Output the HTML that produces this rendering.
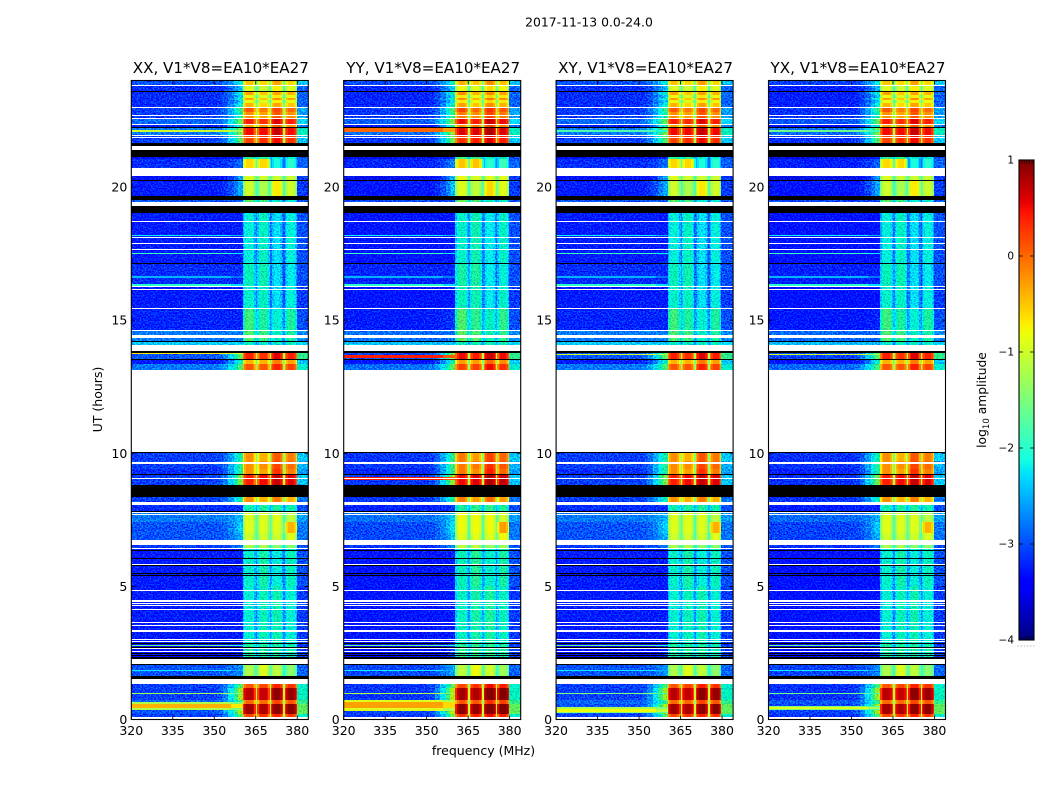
<!DOCTYPE html>
<html>
<head>
<meta charset="utf-8">
<title>2017-11-13 0.0-24.0</title>
<style>
html,body{margin:0;padding:0;background:#fff;width:1050px;height:800px;overflow:hidden}
svg{position:absolute;left:0;top:0;display:block}
text{font-family:"DejaVu Sans","Liberation Sans",sans-serif;fill:#000}
</style>
</head>
<body>
<svg id="fig" xmlns="http://www.w3.org/2000/svg" width="1050" height="800" viewBox="0 0 1050 800">
  <defs>
    <filter id="speckle" filterUnits="userSpaceOnUse" x="0" y="0" width="1050" height="800" color-interpolation-filters="sRGB">
      <feTurbulence type="fractalNoise" baseFrequency="0.62 0.7" numOctaves="1" seed="7" result="n"/>
      <feColorMatrix in="n" type="matrix" values="0 0 0 0 0  3.6 0 0 0 -1.3  0 0 0 0 0.5  0 0 0 0 1" result="nn"/>
      <feComposite in="SourceGraphic" in2="nn" operator="arithmetic" k1="0" k2="1" k3="0.5" k4="-0.25" result="mix"/>
      <feComposite in="mix" in2="SourceAlpha" operator="in"/>
    </filter>
  </defs>
  <text x="589" y="26.5" font-size="12.4" text-anchor="middle">2017-11-13 0.0-24.0</text>
  <text x="0" y="0" font-size="12.5" text-anchor="middle" transform="translate(102,399.5) rotate(-90)">UT (hours)</text>
  <text x="483.5" y="755" font-size="12.5" text-anchor="middle">frequency (MHz)</text>
  <text x="0" y="0" font-size="12.3" text-anchor="middle" transform="translate(986,400) rotate(-90)">log<tspan font-size="8.6" dy="3">10</tspan><tspan dy="-3"> amplitude</tspan></text>
  <g id="panels"></g>
  <g id="colorbar"></g>
</svg>
<script>
// ---------- chart data ----------
const panelTitles = ["XX, V1*V8=EA10*EA27", "YY, V1*V8=EA10*EA27", "XY, V1*V8=EA10*EA27", "YX, V1*V8=EA10*EA27"];
const freqTicks = [320, 335, 350, 365, 380];
const utTicks = [0, 5, 10, 15, 20];
const colorTicks = [1, 0, -1, -2, -3, -4];
const colorTickLabels = ["1", "0", "\u22121", "\u22122", "\u22123", "\u22124"];

// log10 amplitude of each time block:
// UT start, UT end, continuum 320-352, windows 1-4 (360-380 MHz), upper edge 380-384
const timeBlocks = [
  [24.00,23.83,-2.9,-0.5,-0.6,-0.3,-0.6,-2.4],
  [23.83,23.61,-3.1,-0.9,-1.0,-0.7,-0.9,-2.9],
  [23.57,23.45,-3.1,-0.3,-0.5,-0.3,-0.4,-2.9],
  [23.45,23.36,-3.1,-0.8,-0.9,-0.7,-0.8,-2.9],
  [23.36,23.25,-3.1,-0.3,-0.5,-0.2,-0.3,-2.9],
  [23.25,23.15,-3.1,-0.8,-0.9,-0.7,-0.8,-2.9],
  [23.15,23.00,-3.1,-0.4,-0.6,-0.3,-0.5,-2.9],
  [22.97,22.82,-3.0, 0.1,-0.1, 0.2, 0.0,-2.6],
  [22.82,22.56,-3.0,-0.2,-0.3, 0.1,-0.2,-2.6],
  [22.56,22.37,-2.8, 0.4, 0.3, 0.6, 0.4,-2.3],
  [22.37,22.22,-3.2,-0.3,-0.2, 0.1,-0.2,-2.8],
  [22.22,21.97,-2.7, 0.5, 0.5, 0.7, 0.5,-1.9],
  [21.97,21.65,-3.0, 0.2, 0.3, 0.5, 0.3,-2.4],
  [21.14,21.05,-3.4,-1.6,-1.6,-2.0,-2.0,-3.0],
  [21.05,20.71,-3.1,-0.6,-0.6,-2.1,-2.0,-2.9],
  [20.43,20.26,-3.4,-0.9,-1.0,-1.0,-1.0,-3.1],
  [20.26,19.66,-3.2,-1.0,-1.2,-0.7,-1.0,-3.1],
  [19.51,19.42,-2.9,-1.3,-1.5,-2.0,-2.0,-3.0],
  [19.02,17.11,-3.2,-2.05,-1.9,-2.25,-2.05,-3.0],
  [17.11,16.27,-3.1,-1.85,-1.8,-2.25,-2.15,-3.0],
  [16.27,15.47,-3.2,-1.95,-1.9,-2.25,-2.05,-3.1],
  [15.47,14.62,-3.15,-1.5,-1.7,-2.0,-1.7,-3.0],
  [14.62,14.22,-2.7,-1.4,-1.5,-1.9,-1.7,-2.7],
  [14.16,14.07,-2.3,-1.9,-1.9,-1.9,-1.9,-2.3],
  [13.77,13.53,-2.9, 0.4, 0.3, 0.6, 0.4,-1.6],
  [13.53,13.35,-3.2,-0.4,-0.4,-0.1,-0.3,-2.4],
  [13.35,13.12,-2.7, 0.1, 0.1, 0.4, 0.2,-2.0],
  [10.00, 9.70,-3.0,-0.2,-0.4, 0.1,-0.1,-2.4],
  [ 9.70, 9.42,-3.0,-0.2,-0.2, 0.2, 0.0,-2.5],
  [ 9.42, 9.22,-3.1,-0.2,-0.3, 0.3,-0.1,-2.6],
  [ 9.22, 8.80,-3.0, 0.4, 0.5, 0.7, 0.6,-2.4],
  [ 8.35, 8.17,-3.0,-0.2,-0.4,-0.1,-0.4,-2.8],
  [ 8.05, 7.82,-3.1,-1.8,-1.7,-1.7,-1.8,-3.0],
  [ 7.80, 7.40,-2.7,-0.9,-0.9,-0.9,-1.1,-2.6],
  [ 7.40, 7.00,-2.9,-0.9,-0.9,-0.9,-0.4,-2.8],
  [ 7.00, 6.73,-2.9,-1.0,-1.0,-1.0,-0.9,-2.8],
  [ 6.55, 6.46,-3.0,-1.2,-1.2,-1.4,-1.4,-3.0],
  [ 6.39, 5.00,-3.2,-1.95,-1.75,-2.05,-1.85,-3.0],
  [ 5.00, 2.85,-3.2,-2.0,-1.85,-1.8,-2.0,-3.1],
  [ 2.85, 2.28,-3.3,-1.7,-1.7,-1.7,-1.8,-3.1],
  [ 2.09, 1.65,-2.9,-1.2,-0.9,-1.1,-1.4,-2.9],
  [ 1.32, 1.18,-3.0, 0.1, 0.2, 0.4, 0.3,-2.0],
  [ 1.18, 0.73,-3.0, 0.75,0.7, 0.95,0.9,-1.9],
  [ 0.73, 0.58,-2.8, 0.0, 0.0, 0.2, 0.1,-1.6],
  [ 0.58, 0.21,-2.9, 0.85,0.8, 0.95,0.95,-1.3],
  [ 0.21, 0.10,-3.0, 0.2, 0.3, 0.4, 0.3,-2.0]
];

// thin bright lines through the continuum in every panel: UT start, UT end, log10 amplitude
const sharedStreaks = [[18.21,18.17,-2.2],[17.51,17.47,-1.9],[16.64,16.60,-2.5],[16.34,16.29,-2.0],[2.80,2.76,-1.6],[1.85,1.82,-2.2]];

// polarisation dependent continuum streaks: UT start, UT end, log10 amplitude
const xxStreaks = [[22.13,22.07,-1.0],[13.78,13.72,-0.7],[9.07,9.03,-1.0],[1.01,0.96,-1.3],[0.66,0.58,-1.2],[0.58,0.45,-0.4],[0.45,0.36,-1.2]];
const yyStreaks = [[22.24,22.06,0.0],[13.70,13.58,0.4],[9.12,8.98,0.4],[1.01,0.96,-1.2],[0.74,0.66,-0.9],[0.66,0.42,-0.3],[0.42,0.33,-0.9]];
const xyStreaks = [[22.13,22.07,-1.8],[13.74,13.68,-1.0],[9.08,9.02,-0.8],[1.01,0.96,-1.5],[0.48,0.40,-1.2],[0.40,0.30,-0.8],[0.30,0.24,-1.4]];
const yxStreaks = [[22.13,22.07,-1.6],[13.74,13.68,-1.0],[9.08,9.02,-1.5],[1.01,0.96,-1.6],[0.52,0.48,-1.5],[0.48,0.40,-0.9],[0.40,0.36,-1.5]];
const panelStreaks = [xxStreaks, yyStreaks, xyStreaks, yxStreaks];

// constant amplitude offset per polarisation: continuum and windows
const panelLowShift = [-0.08, -0.13, -0.08, -0.16];
const panelWindowShift = [0, 0.12, 0.02, 0];

// flagged (zero amplitude) time ranges
const flaggedBlack = [[23.60,23.57],[22.24,22.20],[21.65,21.54],[21.39,21.14],[20.28,20.25],[19.66,19.51],[19.29,19.03],[17.13,17.09],[15.47,15.43],[14.22,14.16],[13.84,13.77],[13.53,13.50],[10.04,10.00],[9.23,9.19],[8.80,8.35],[7.84,7.80],[6.37,6.34],[6.08,6.05],[5.79,5.75],[5.52,5.49],[5.43,5.40],[2.87,2.83],[2.74,2.70],[2.49,2.45],[2.41,2.37],[2.33,2.29],[2.08,2.05],[1.65,1.53]];

// time ranges with no data
const missingData = [[23.84,23.80],[23.02,22.98],[22.71,22.67],[22.60,22.56],[22.37,22.33],[21.97,21.93],[21.88,21.84],[21.54,21.39],[20.70,20.43],[19.42,19.29],[18.73,18.69],[18.13,18.09],[17.91,17.87],[17.68,17.64],[16.29,16.25],[16.18,16.14],[15.45,15.41],[14.64,14.60],[14.46,14.31],[14.07,13.84],[13.12,10.04],[9.69,9.65],[9.63,9.59],[9.06,9.02],[8.17,8.05],[7.79,7.75],[7.71,7.67],[6.73,6.55],[6.46,6.39],[5.85,5.81],[4.86,4.82],[4.47,4.43],[4.39,4.35],[4.31,4.27],[4.16,4.12],[3.66,3.62],[3.55,3.51],[3.36,3.28],[3.02,2.98],[2.94,2.90],[2.68,2.64],[2.59,2.55],[2.28,2.09],[1.53,1.32],[0.10,0.00]];

// continuum to window roll-up: edges (MHz) and fractional rise of each step
const rampEdges = [320, 351, 353, 355, 357, 358.5, 360.4];
const rampRise = [0, 0.04, 0.16, 0.36, 0.62, 0.9];
// spectral window edges (MHz)
const windowEdges = [[360.4,365],[365.6,370],[370.6,375],[375.6,379.8]];
const gapEdges = [[365,365.6],[370,370.6],[375,375.6]];
// shape across a window: fractional channel breaks and drop in log10 amplitude
const windowBreaks = [0, 0.1, 0.25, 0.75, 0.9, 1];
const windowDrop = [0.5, 0.18, 0, 0.18, 0.5];

// ---------- axes and colour ----------
const NS = "http://www.w3.org/2000/svg";
const PANEL_W = 177, PLOT_TOP = 80.5, PLOT_BOTTOM = 719.5;
const fMin = 320, fMax = 384, utMax = 24, vMin = -4, vMax = 1;
const panelLeft = i => 131.3 + i * 212.4;
const xScale = (i, f) => panelLeft(i) + (f - fMin) / (fMax - fMin) * PANEL_W;
const yScale = ut => PLOT_BOTTOM - ut / utMax * (PLOT_BOTTOM - PLOT_TOP);

const jetR = [[0,0],[0.35,0],[0.66,1],[0.89,1],[1,0.5]];
const jetG = [[0,0],[0.125,0],[0.375,1],[0.64,1],[0.91,0],[1,0]];
const jetB = [[0,0.5],[0.11,1],[0.34,1],[0.65,0],[1,0]];
function seg(t, s) {
  for (let k = 1; k < s.length; k++) {
    if (t <= s[k][0]) return s[k-1][1] + (t - s[k-1][0]) / (s[k][0] - s[k-1][0]) * (s[k][1] - s[k-1][1]);
  }
  return s[s.length-1][1];
}
function jet(v) {
  const t = Math.max(0, Math.min(1, (v - vMin) / (vMax - vMin)));
  return "rgb(" + [jetR, jetG, jetB].map(s => Math.round(255 * seg(t, s))).join(",") + ")";
}
function mk(tag, parent, attrs) {
  const e = document.createElementNS(NS, tag);
  for (const k in attrs) e.setAttribute(k, attrs[k]);
  parent.appendChild(e);
  return e;
}
function cell(parent, i, f0, f1, t0, t1, fill) {
  const x0 = Math.round(xScale(i, f0)), x1 = Math.round(xScale(i, f1));
  const y0 = Math.round(yScale(t0)), y1 = Math.round(yScale(t1));
  const r = mk("rect", parent, {x: x0, y: y0, width: Math.max(1, x1 - x0), height: Math.max(1, y1 - y0), fill: fill});
  return r;
}

const panelsRoot = document.getElementById("panels");
panelTitles.forEach((title, i) => {
  const g = mk("g", panelsRoot, {});
  
  

  const cells = mk("g", g, {filter: "url(#speckle)", "shape-rendering": "crispEdges"});
  
  
  const clean = mk("g", g, {"shape-rendering": "crispEdges"});
  
  

  timeBlocks.forEach(b => {
    const t0 = b[0], t1 = b[1], low = b[2] + panelLowShift[i], hi = b[7];
    const win = [b[3], b[4], b[5], b[6]].map(v => v + panelWindowShift[i]);
    const mean = win.reduce((a, c) => a + c, 0) / 4;
    const knee = mean - 1.5;
    const winGroup = mean < -1.4 ? cells : clean;
    rampRise.forEach((w, k) => {
      const v = Math.max(low, low + w * (knee - low));
      const r = cell(cells, i, rampEdges[k], rampEdges[k+1], t0, t1, jet(v));
      
      
    });
    windowEdges.forEach((e, k) => {
      windowDrop.forEach((d, n) => {
        const f0 = e[0] + windowBreaks[n] * (e[1] - e[0]);
        const f1 = e[0] + windowBreaks[n+1] * (e[1] - e[0]);
        const r = cell(winGroup, i, f0, f1, t0, t1, jet(win[k] - d));
        
        
      });
    });
    gapEdges.forEach((e, k) => {
      const m = (win[k] + win[k+1]) / 2;
      const r = cell(winGroup, i, e[0], e[1], t0, t1, jet(m - 0.8 - 0.6 * Math.max(0, m + 1)));
      
      
    });
    const r = cell(cells, i, 379.8, fMax, t0, t1, jet(hi));
    
    
  });

  sharedStreaks.concat(panelStreaks[i]).forEach(s => {
    const r = cell(clean, i, fMin, 356, s[0], s[1], jet(s[2]));
    
    
    const r2 = cell(clean, i, 356, 360.4, s[0], s[1], jet(s[2] - 0.3));
    
    
  });

  const over = mk("g", g, {"shape-rendering": "crispEdges"});
  
  
  flaggedBlack.forEach(s => {
    const r = cell(over, i, fMin, fMax, s[0], s[1], "#000");
    
    
  });
  missingData.forEach(s => {
    const r = cell(over, i, fMin, fMax, s[0], s[1], "#fff");
    
    
  });

  const L = panelLeft(i), R = L + PANEL_W;
  const frame = mk("rect", g, {x: L, y: PLOT_TOP, width: PANEL_W, height: PLOT_BOTTOM - PLOT_TOP, fill: "none", stroke: "#000", "stroke-width": 1.1});
  
  

  freqTicks.forEach(f => {
    const x = xScale(i, f);
    const t1 = mk("path", g, {d: "M" + x + " " + PLOT_BOTTOM + "v-4M" + x + " " + PLOT_TOP + "v4", stroke: "#000", "stroke-width": 0.8, fill: "none"});
    
    
    const lab = mk("text", g, {x: x, y: 735, "font-size": 12.5, "text-anchor": "middle"});
    lab.textContent = f;
    
    
  });
  utTicks.forEach(u => {
    const y = yScale(u);
    const t1 = mk("path", g, {d: "M" + L + " " + y + "h4M" + R + " " + y + "h-4", stroke: "#000", "stroke-width": 0.8, fill: "none"});
    
    
    const lab = mk("text", g, {x: L - 4, y: y + 4.5, "font-size": 12.5, "text-anchor": "end"});
    lab.textContent = u;
    
    
  });
  const tt = mk("text", g, {x: L + PANEL_W / 2 + 1, y: 73, "font-size": 15.1, "text-anchor": "middle"});
  tt.textContent = title;
  
  
});

// ---------- colour bar ----------
const cb = document.getElementById("colorbar");
const CB_L = 1019, CB_R = 1034, CB_T = 160, CB_B = 640;
const cbY = v => CB_B - (v - vMin) / (vMax - vMin) * (CB_B - CB_T);
const cbRamp = mk("g", cb, {"shape-rendering": "crispEdges"});


for (let py = CB_T; py < CB_B; py += 2) {
  const v = vMax - (py + 1 - CB_T) / (CB_B - CB_T) * (vMax - vMin);
  const r = mk("rect", cbRamp, {x: CB_L, y: py, width: CB_R - CB_L, height: 2, fill: jet(v)});
  
  
}
const cbFrame = mk("rect", cb, {x: CB_L, y: CB_T, width: CB_R - CB_L, height: CB_B - CB_T, fill: "none", stroke: "#000", "stroke-width": 1.1});


colorTicks.forEach((v, k) => {
  const y = cbY(v);
  const t = mk("path", cb, {d: "M" + CB_L + " " + y + "h4M" + CB_R + " " + y + "h-4", stroke: "#000", "stroke-width": 0.8, fill: "none"});
  
  
  const lab = mk("text", cb, {x: 1014, y: y + 3.5, "font-size": 10.5, "text-anchor": "end"});
  lab.textContent = colorTickLabels[k];
  
  
});
[0, 1, 2, 3, 4].forEach(n => {
  const x = CB_L + 3 + n * 2.5;
  const m = mk("path", cb, {d: "M" + x + " " + CB_T + "v4M" + x + " " + CB_B + "v-4", stroke: "#000", "stroke-width": 0.6, fill: "none"});
  
  
});
[0, 1, 2, 3, 4, 5].forEach(n => {
  const d = mk("rect", cb, {x: 1017.5 + n * 3.2, y: 645.5, width: 1, height: 1, fill: "#999"});
  
  
});
</script>
</body>
</html>
